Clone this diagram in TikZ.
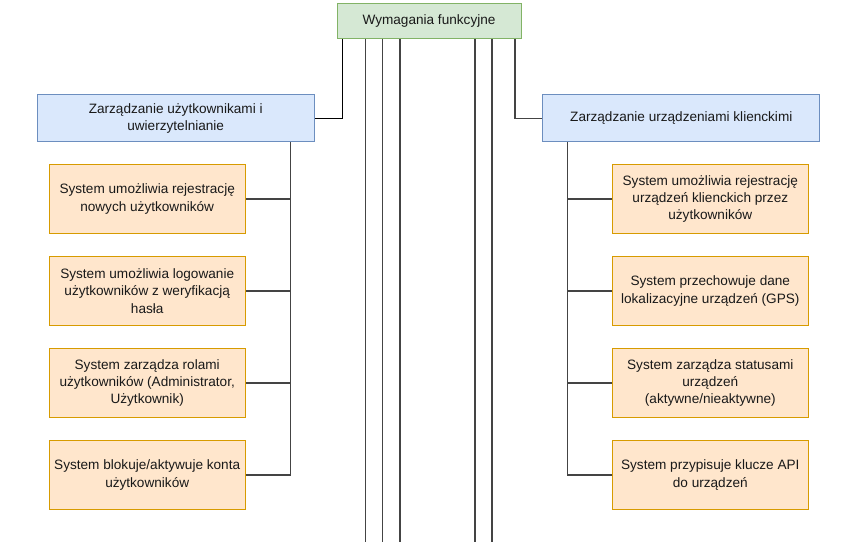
\documentclass[tikz,border=0pt]{standalone}
\usepackage{fontspec}
\setmainfont{Liberation Sans}
\definecolor{gfill}{HTML}{D5E8D4}
\definecolor{gdraw}{HTML}{82B366}
\definecolor{bfill}{HTML}{DAE8FC}
\definecolor{bdraw}{HTML}{6C8EBF}
\definecolor{ofill}{HTML}{FFE6CC}
\definecolor{odraw}{HTML}{D79B00}
\definecolor{lin}{HTML}{444444}
\begin{document}
\begin{tikzpicture}[x=0.75pt,y=-0.75pt,
  every node/.style={font=\fontsize{10.2pt}{13pt}\selectfont, align=center, inner sep=0pt, text=black!90},
  rootbox/.style={draw=gdraw, fill=gdraw!0, fill=gfill, line width=0.75pt, minimum width=138pt, minimum height=26.25pt},
  groupbox/.style={draw=bdraw, fill=bfill, line width=0.75pt, minimum width=207.75pt, minimum height=35pt},
  leafbox/.style={draw=odraw, fill=ofill, line width=0.75pt, minimum width=147pt, minimum height=52.1pt},
  conn/.style={draw=lin, line width=0.8pt}]
\useasboundingbox (0,0) rectangle (857,542);
\fill[white] (0,0) rectangle (857,542);

\node[rootbox] (top) at (429,20.8) {Wymagania funkcyjne};
\node[groupbox] (L) at (175.7,118.3) {Zarządzanie użytkownikami i\\uwierzytelnianie};
\node[groupbox] (R) at (681.3,118.3) {Zarządzanie urządzeniami klienckimi};

\node[leafbox] (l1) at (147.2,199) {System umożliwia rejestrację\\nowych użytkowników};
\node[leafbox] (l2) at (147.2,291) {System umożliwia logowanie\\użytkowników z weryfikacją\\hasła};
\node[leafbox] (l3) at (147.2,383) {System zarządza rolami\\użytkowników (Administrator,\\Użytkownik)};
\node[leafbox] (l4) at (147.2,475) {System blokuje/aktywuje konta\\użytkowników};

\node[leafbox] (r1) at (710.3,199) {System umożliwia rejestrację\\urządzeń klienckich przez\\użytkowników};
\node[leafbox] (r2) at (710.3,291) {System przechowuje dane\\lokalizacyjne urządzeń (GPS)};
\node[leafbox] (r3) at (710.3,383) {System zarządza statusami\\urządzeń\\(aktywne/nieaktywne)};
\node[leafbox] (r4) at (710.3,475) {System przypisuje klucze API\\do urządzeń};

\coordinate (xa) at (342.7,0);
\coordinate (xb) at (515,0);
\coordinate (lx) at (290.7,0);
\coordinate (rx) at (567.7,0);
\coordinate (d1) at (365.7,542);
\coordinate (d2) at (382.7,542);
\coordinate (d3) at (400,542);
\coordinate (d4) at (475,542);
\coordinate (d5) at (492,542);

\draw[conn, draw=black] (top.south -| xa) |- (L.east);
\draw[conn] (top.south -| xb) |- (R.west);
\foreach \d in {d1,d2,d3,d4,d5}
  \draw[conn] (top.south -| \d) -- (\d);

\foreach \c in {l1,l2,l3,l4}
  \draw[conn] (L.south -| lx) |- (\c.east);
\foreach \c in {r1,r2,r3,r4}
  \draw[conn] (R.south -| rx) |- (\c.west);
\end{tikzpicture}
\end{document}
